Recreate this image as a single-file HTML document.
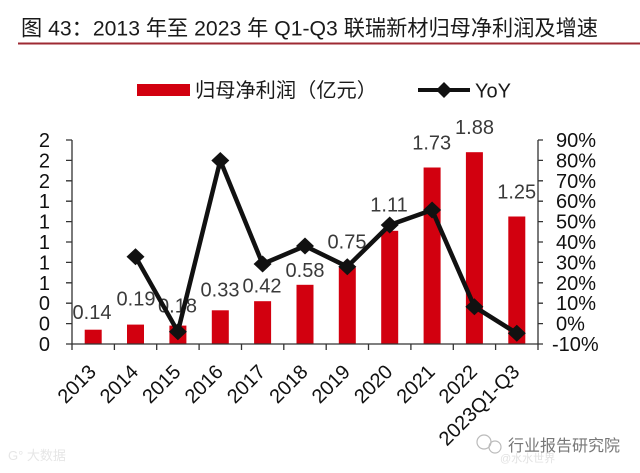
<!DOCTYPE html>
<html><head><meta charset="utf-8"><style>
html,body{margin:0;padding:0;background:#fff;}
svg{display:block;}
text{font-family:"Liberation Sans","Noto Sans CJK SC",sans-serif;}
</style></head><body>
<svg width="640" height="473" viewBox="0 0 640 473" xmlns="http://www.w3.org/2000/svg">
<rect width="640" height="473" fill="#fff"/>
<!-- title -->
<text x="21" y="35.5" font-size="21.5" fill="#1a1a1a" textLength="577" lengthAdjust="spacingAndGlyphs">图 43：2013 年至 2023 年 Q1-Q3 联瑞新材归母净利润及增速</text>
<rect x="18" y="42.5" width="622" height="2" fill="#9e2a33"/>
<!-- legend -->
<rect x="137" y="84" width="53" height="12" fill="#d2000f"/>
<text x="195" y="97" font-size="20" fill="#1a1a1a" textLength="182" lengthAdjust="spacingAndGlyphs">归母净利润（亿元）</text>
<line x1="418" y1="90" x2="470" y2="90" stroke="#111" stroke-width="4"/>
<polygon points="444,82 452,90 444,98 436,90" fill="#111"/>
<text x="475" y="97.5" font-size="20" fill="#1a1a1a">YoY</text>
<!-- bars -->
<g fill="#d2000f">
<rect x="84.7" y="329.7" width="17" height="14.3"/>
<rect x="127" y="324.6" width="17" height="19.4"/>
<rect x="169.4" y="325.6" width="17" height="18.4"/>
<rect x="211.8" y="310.3" width="17" height="33.7"/>
<rect x="254.1" y="301.2" width="17" height="42.8"/>
<rect x="296.5" y="284.8" width="17" height="59.2"/>
<rect x="338.8" y="267.5" width="17" height="76.5"/>
<rect x="381.2" y="230.8" width="17" height="113.2"/>
<rect x="423.6" y="167.5" width="17" height="176.5"/>
<rect x="465.9" y="152.2" width="17" height="191.8"/>
<rect x="508.3" y="216.5" width="17" height="127.5"/>
</g>
<!-- axes -->
<g stroke="#333" stroke-width="1.3" fill="none">
<line x1="72" y1="140" x2="72" y2="344"/>
<line x1="538" y1="140" x2="538" y2="344"/>
<line x1="66" y1="344" x2="543" y2="344"/>
<path d="M66 140H72M66 160.4H72M66 180.8H72M66 201.2H72M66 221.6H72M66 242H72M66 262.4H72M66 282.8H72M66 303.2H72M66 323.6H72"/>
<path d="M538 140H543M538 160.4H543M538 180.8H543M538 201.2H543M538 221.6H543M538 242H543M538 262.4H543M538 282.8H543M538 303.2H543M538 323.6H543"/>
<path d="M72 344V350M114.4 344V350M156.7 344V350M199.1 344V350M241.5 344V350M283.8 344V350M326.2 344V350M368.5 344V350M410.9 344V350M453.3 344V350M495.6 344V350M538 344V350"/>
</g>
<!-- left labels -->
<g font-size="20" fill="#111" text-anchor="end">
<text x="50" y="147">2</text>
<text x="50" y="167.4">2</text>
<text x="50" y="187.8">2</text>
<text x="50" y="208.2">1</text>
<text x="50" y="228.6">1</text>
<text x="50" y="249">1</text>
<text x="50" y="269.4">1</text>
<text x="50" y="289.8">1</text>
<text x="50" y="310.2">0</text>
<text x="50" y="330.6">0</text>
<text x="50" y="351">0</text>
</g>
<!-- right labels -->
<g font-size="20" fill="#111">
<text x="556" y="147">90%</text>
<text x="556" y="167.4">80%</text>
<text x="556" y="187.8">70%</text>
<text x="556" y="208.2">60%</text>
<text x="556" y="228.6">50%</text>
<text x="556" y="249">40%</text>
<text x="556" y="269.4">30%</text>
<text x="556" y="289.8">20%</text>
<text x="556" y="310.2">10%</text>
<text x="556" y="330.6">0%</text>
<text x="552" y="351">-10%</text>
</g>
<!-- data labels -->
<g font-size="20" fill="#3a3a3a" text-anchor="middle">
<text x="92" y="319">0.14</text>
<text x="136" y="305.7">0.19</text>
<text x="177.5" y="312.7">0.18</text>
<text x="220" y="296.7">0.33</text>
<text x="262" y="292.7">0.42</text>
<text x="305" y="277">0.58</text>
<text x="347" y="248.3">0.75</text>
<text x="389" y="211.7">1.11</text>
<text x="431.7" y="149.3">1.73</text>
<text x="474.5" y="134">1.88</text>
<text x="516.7" y="198.3">1.25</text>
</g>
<!-- line -->
<polyline points="135.5,256.7 177.9,331.7 220.3,160.5 262.6,264 305,246 347.3,266.7 389.7,225 432.1,210 474.4,306.7 516.8,333.3" fill="none" stroke="#111" stroke-width="4.5" stroke-linejoin="round"/>
<g fill="#111">
<polygon points="135.5,248.2 144.5,256.7 135.5,265.2 126.5,256.7"/>
<polygon points="177.9,323.2 186.9,331.7 177.9,340.2 168.9,331.7"/>
<polygon points="220.3,152 229.3,160.5 220.3,169 211.3,160.5"/>
<polygon points="262.6,255.5 271.6,264 262.6,272.5 253.6,264"/>
<polygon points="305,237.5 314,246 305,254.5 296,246"/>
<polygon points="347.3,258.2 356.3,266.7 347.3,275.2 338.3,266.7"/>
<polygon points="389.7,216.5 398.7,225 389.7,233.5 380.7,225"/>
<polygon points="432.1,201.5 441.1,210 432.1,218.5 423.1,210"/>
<polygon points="474.4,298.2 483.4,306.7 474.4,315.2 465.4,306.7"/>
<polygon points="516.8,324.8 525.8,333.3 516.8,341.8 507.8,333.3"/>
</g>
<!-- x labels -->
<g font-size="20" fill="#111" text-anchor="end">
<text transform="translate(97.2,373) rotate(-45)">2013</text>
<text transform="translate(139.5,373) rotate(-45)">2014</text>
<text transform="translate(181.9,373) rotate(-45)">2015</text>
<text transform="translate(224.3,373) rotate(-45)">2016</text>
<text transform="translate(266.6,373) rotate(-45)">2017</text>
<text transform="translate(309,373) rotate(-45)">2018</text>
<text transform="translate(351.3,373) rotate(-45)">2019</text>
<text transform="translate(393.7,373) rotate(-45)">2020</text>
<text transform="translate(436.1,373) rotate(-45)">2021</text>
<text transform="translate(478.4,373) rotate(-45)">2022</text>
<text transform="translate(520.8,373) rotate(-45)">2023Q1-Q3</text>
</g>
<!-- watermarks -->
<g fill="none" stroke="#bbb" stroke-width="1.2">
<circle cx="484" cy="442" r="7"/>
<circle cx="495" cy="447" r="6"/>
</g>
<text x="508" y="451" font-size="16" fill="#777" textLength="112" lengthAdjust="spacingAndGlyphs">行业报告研究院</text>
<text x="500" y="462" font-size="11" fill="#e2e2e2">@水水世界</text>
<text x="8" y="460" font-size="13" fill="#e6e6e6">G° 大数据</text>
</svg>
</body></html>
